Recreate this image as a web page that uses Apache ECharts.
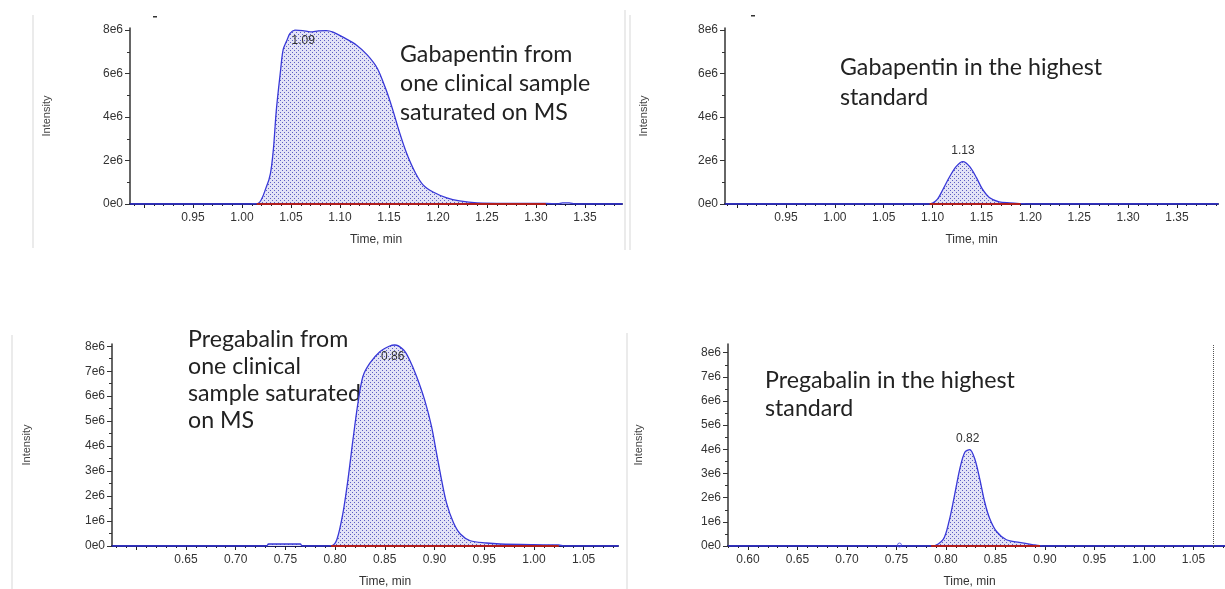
<!DOCTYPE html>
<html>
<head>
<meta charset="utf-8">
<script src="https://cdn.jsdelivr.net/npm/echarts@6/dist/echarts.min.js"></script>
<style>
  html, body { margin: 0; padding: 0; background: #fff; }
  #chart { width: 1225px; height: 589px; }
</style>
</head>
<body>
<div id="chart"></div>
<script>
// intensities are in units of 1e6
var gabaClinicalTime = [0.886, 1.000, 1.016, 1.025, 1.029, 1.032, 1.035, 1.039, 1.042, 1.046, 1.049, 1.054, 1.062, 1.070, 1.078, 1.086, 1.093, 1.103, 1.117, 1.128, 1.138, 1.146, 1.153, 1.161, 1.168, 1.177, 1.185, 1.195, 1.209, 1.222, 1.240, 1.270, 1.310, 1.322, 1.327, 1.334, 1.340, 1.388];
var gabaClinicalIntensity = [0, 0, 0.02, 0.80, 1.40, 2.50, 4.30, 6.00, 7.10, 7.55, 7.85, 8.00, 7.98, 7.92, 7.97, 7.98, 7.91, 7.68, 7.31, 6.85, 6.25, 5.38, 4.46, 3.26, 2.34, 1.43, 0.87, 0.55, 0.28, 0.14, 0.05, 0.03, 0.03, 0, 0.05, 0.05, 0, 0];
var gabaClinicalBaseline = [1.015, 1.310];
var gabaClinicalApex = [1.09, 7.98];

var gabaStdTime = [0.888, 1.096, 1.100, 1.105, 1.110, 1.117, 1.124, 1.131, 1.138, 1.145, 1.151, 1.158, 1.168, 1.179, 1.189, 1.198, 1.392];
var gabaStdIntensity = [0, 0, 0.04, 0.22, 0.62, 1.22, 1.72, 1.95, 1.72, 1.20, 0.68, 0.30, 0.10, 0.05, 0.02, 0, 0];
var gabaStdBaseline = [1.097, 1.190];
var gabaStdApex = [1.131, 1.95];

var pregaClinicalTime = [0.576, 0.731, 0.733, 0.765, 0.767, 0.790, 0.797, 0.802, 0.808, 0.813, 0.818, 0.823, 0.828, 0.835, 0.845, 0.855, 0.860, 0.869, 0.875, 0.882, 0.890, 0.897, 0.902, 0.907, 0.912, 0.919, 0.926, 0.936, 0.952, 0.966, 1.000, 1.025, 1.030, 1.085];
var pregaClinicalIntensity = [0, 0, 0.08, 0.08, 0, 0, 0.02, 0.28, 1.34, 2.67, 4.26, 5.72, 6.79, 7.32, 7.78, 8.01, 8.05, 7.85, 7.45, 6.79, 5.86, 4.79, 3.73, 2.67, 1.74, 0.94, 0.48, 0.21, 0.12, 0.08, 0.05, 0.04, 0, 0];
var pregaClinicalBaseline = [0.796, 1.025];
var pregaClinicalApex = [0.860, 8.05];

var pregaStdTime = [0.580, 0.786, 0.797, 0.803, 0.808, 0.814, 0.819, 0.824, 0.829, 0.834, 0.839, 0.844, 0.851, 0.861, 0.874, 0.887, 0.898, 1.082];
var pregaStdIntensity = [0, 0, 0.26, 1.01, 1.97, 3.20, 3.88, 3.99, 3.61, 2.79, 1.83, 1.15, 0.60, 0.26, 0.15, 0.06, 0, 0];
var pregaStdBaseline = [0.785, 0.895];
var pregaStdApex = [0.824, 3.99];
var pregaStdMarker = [0.753, 0.04];
var pregaStdCursor = 1.0696;

var gabaXLabels = [0.95, 1.00, 1.05, 1.10, 1.15, 1.20, 1.25, 1.30, 1.35];
var pregaClinicalXLabels = [0.65, 0.70, 0.75, 0.80, 0.85, 0.90, 0.95, 1.00, 1.05];
var pregaStdXLabels = [0.60, 0.65, 0.70, 0.75, 0.80, 0.85, 0.90, 0.95, 1.00, 1.05];
var gabaYLabels = [0, 2, 4, 6, 8];
var pregaYLabels = [0, 1, 2, 3, 4, 5, 6, 7, 8];

// U+200C keeps the "ti" from turning into a ligature
var gabaName = "Gabapen\u200Ctin";

var panels = [
  { name: "Gabapentin from one clinical sample saturated on MS",
    time: gabaClinicalTime, value: gabaClinicalIntensity, baseline: gabaClinicalBaseline,
    apex: gabaClinicalApex, apexText: "1.09", apexOffset: [-27, 10],
    xLabels: gabaXLabels, yLabels: gabaYLabels, yMinorStep: 1,
    grid: { left: 130, top: 28, width: 492, height: 176 }, xMin: 0.8857, xMax: 1.3878, yMax: 8.1,
    yNameGap: 78, xNamePad: 0 },
  { name: "Gabapentin in the highest standard",
    time: gabaStdTime, value: gabaStdIntensity, baseline: gabaStdBaseline,
    apex: gabaStdApex, apexText: "1.13", apexOffset: [0, -11],
    xLabels: gabaXLabels, yLabels: gabaYLabels, yMinorStep: 1,
    grid: { left: 725, top: 28, width: 493, height: 176 }, xMin: 0.8876, xMax: 1.392, yMax: 8.1,
    yNameGap: 76, xNamePad: 0 },
  { name: "Pregabalin from one clinical sample saturated on MS",
    time: pregaClinicalTime, value: pregaClinicalIntensity, baseline: pregaClinicalBaseline,
    apex: pregaClinicalApex, apexText: "0.86", apexOffset: [-2, 12],
    xLabels: pregaClinicalXLabels, yLabels: pregaYLabels, yMinorStep: 0.5,
    grid: { left: 112, top: 344, width: 506, height: 203 }, xMin: 0.5756, xMax: 1.0846, yMax: 8.09,
    yNameGap: 80, xNamePad: 20 },
  { name: "Pregabalin in the highest standard",
    time: pregaStdTime, value: pregaStdIntensity, baseline: pregaStdBaseline,
    apex: pregaStdApex, apexText: "0.82", apexOffset: [-2, -11],
    xLabels: pregaStdXLabels, yLabels: pregaYLabels, yMinorStep: 0.5,
    grid: { left: 728, top: 344, width: 497, height: 204 }, xMin: 0.5798, xMax: 1.0818, yMax: 8.36,
    yNameGap: 84, xNamePad: -7, marker: pregaStdMarker, cursor: pregaStdCursor }
];

var tickFont = "Liberation Sans";
var noteFont = "Lato";

var zip = function (t, v) {
  return t.map(function (x, i) { return [x, v[i]]; });
};

var stepsIn = function (min, max, step) {
  var out = [];
  for (var k = Math.ceil(min / step - 1e-9); k * step <= max + 1e-9; k++) {
    out.push(+(k * step).toFixed(4));
  }
  return out;
};

var makeDots = function () {
  var c = document.createElement("canvas");
  c.width = 4;
  c.height = 4;
  var ctx = c.getContext("2d");
  ctx.fillStyle = "#e3e3f6";
  ctx.fillRect(0, 0, 4, 4);
  ctx.fillStyle = "#5e5ec4";
  ctx.fillRect(0, 0, 1, 1);
  ctx.fillRect(2, 2, 1, 1);
  return c;
};
var dots = makeDots();

// pick the note font size so "Gabapentin in the highest" spans ~262px
var fitNoteSize = function () {
  var ctx = document.createElement("canvas").getContext("2d");
  ctx.font = "20px " + noteFont;
  var w = ctx.measureText("Gabapentin in the highest").width;
  return Math.round((20 * 262 / w) * 10) / 10;
};
var noteSize = fitNoteSize();

var grids = [], xAxes = [], yAxes = [], series = [];

panels.forEach(function (p, i) {
  grids.push(p.grid);

  xAxes.push({
    gridIndex: i, type: "value", position: "bottom", min: p.xMin, max: p.xMax,
    axisLine: { onZero: false, lineStyle: { color: "#1c1c68", width: 2 } },
    axisTick: { customValues: stepsIn(p.xMin, p.xMax, 0.05), length: 4, lineStyle: { color: "#222" } },
    axisLabel: {
      customValues: p.xLabels, margin: 8, color: "#333", fontSize: 12, fontFamily: tickFont,
      formatter: function (v) { return v.toFixed(2); }
    },
    splitLine: { show: false },
    name: "Time, min", nameLocation: "middle", nameGap: 30,
    nameTextStyle: { color: "#333", fontSize: 12, fontFamily: tickFont, padding: [0, 0, 0, p.xNamePad * 2] }
  });
  xAxes.push({
    gridIndex: i, type: "value", position: "bottom", min: p.xMin, max: p.xMax,
    axisLine: { show: false },
    axisTick: { customValues: stepsIn(p.xMin, p.xMax, 0.01), length: 2, lineStyle: { color: "#222" } },
    axisLabel: { show: false },
    splitLine: { show: false }
  });

  yAxes.push({
    gridIndex: i, type: "value", position: "left", min: 0, max: p.yMax,
    axisLine: { show: true, onZero: false, lineStyle: { color: "#333", width: 1.5 } },
    axisTick: { show: true, customValues: p.yLabels, length: 5, lineStyle: { color: "#333" } },
    axisLabel: {
      customValues: p.yLabels, margin: 7, color: "#333", fontSize: 12, fontFamily: tickFont,
      formatter: function (v) { return v === 0 ? "0e0" : v + "e6"; }
    },
    splitLine: { show: false },
    name: "Intensity", nameLocation: "middle", nameGap: p.yNameGap, nameRotate: 90,
    nameTextStyle: { color: "#444", fontSize: 11, fontFamily: tickFont }
  });
  yAxes.push({
    gridIndex: i, type: "value", position: "left", min: 0, max: p.yMax,
    axisLine: { show: false },
    axisTick: { show: true, customValues: stepsIn(0, p.yMax, p.yMinorStep), length: 3, lineStyle: { color: "#333" } },
    axisLabel: { show: false },
    splitLine: { show: false }
  });

  var trace = {
    name: p.name, type: "line", xAxisIndex: 2 * i, yAxisIndex: 2 * i,
    data: zip(p.time, p.value),
    smooth: 0.3, symbol: "none", z: 3,
    lineStyle: { color: "#3838d8", width: 1.3 },
    areaStyle: { color: { image: dots, repeat: "repeat" }, opacity: 1 },
    markPoint: {
      symbol: "circle", symbolSize: 0, silent: true,
      label: {
        show: true, position: "inside", offset: p.apexOffset, formatter: p.apexText,
        color: "#333", fontSize: 12, fontFamily: tickFont
      },
      data: [{ coord: p.apex }]
    }
  };
  if (p.cursor !== undefined) {
    trace.markLine = {
      symbol: "none", silent: true, label: { show: false },
      lineStyle: { type: "dotted", color: "#555", width: 1 },
      data: [{ xAxis: p.cursor }]
    };
  }
  series.push(trace);

  series.push({
    type: "line", xAxisIndex: 2 * i, yAxisIndex: 2 * i,
    data: p.baseline.map(function (t) { return [t, 0]; }),
    symbol: "none", z: 4,
    lineStyle: { color: "#b01e1e", width: 2 }
  });

  if (p.marker) {
    series.push({
      type: "scatter", xAxisIndex: 2 * i, yAxisIndex: 2 * i,
      data: [p.marker], symbol: "circle", symbolSize: 4, z: 5,
      itemStyle: { color: "rgba(0,0,0,0)", borderColor: "#4a4ae0", borderWidth: 1 }
    });
  }
});

var noteStyle = function (text, x, y, lh) {
  return {
    type: "text", x: x, y: y, silent: true,
    style: {
      text: text, fill: "#222", font: noteSize + "px " + noteFont,
      lineHeight: lh, textAlign: "left", textVerticalAlign: "top"
    }
  };
};

var border = function (x, y1, y2) {
  return {
    type: "line", silent: true,
    shape: { x1: x, y1: y1, x2: x, y2: y2 },
    style: { stroke: "#e4e4e4", lineWidth: 1.5 }
  };
};

var dash = function (x, y) {
  return { type: "rect", silent: true, shape: { x: x, y: y, width: 4, height: 1.5 }, style: { fill: "#333" } };
};

var option = {
  animation: false,
  backgroundColor: "#fff",
  grid: grids,
  xAxis: xAxes,
  yAxis: yAxes,
  series: series,
  graphic: [
    border(33, 15, 248), border(625, 10, 250), border(630, 15, 250),
    border(12, 335, 589), border(627, 333, 589),
    dash(153, 16), dash(751, 15),
    noteStyle(gabaName + " from\none clinical sample\nsaturated on MS", 400, 40, 29),
    noteStyle(gabaName + " in the highest\nstandard", 840, 53, 30),
    noteStyle("Pregabalin from\none clinical\nsample saturated\non MS", 188, 326, 27),
    noteStyle("Pregabalin in the highest\nstandard", 765, 367, 28)
  ]
};

var chart = echarts.init(document.getElementById("chart"));
chart.setOption(option);
</script>
</body>
</html>
